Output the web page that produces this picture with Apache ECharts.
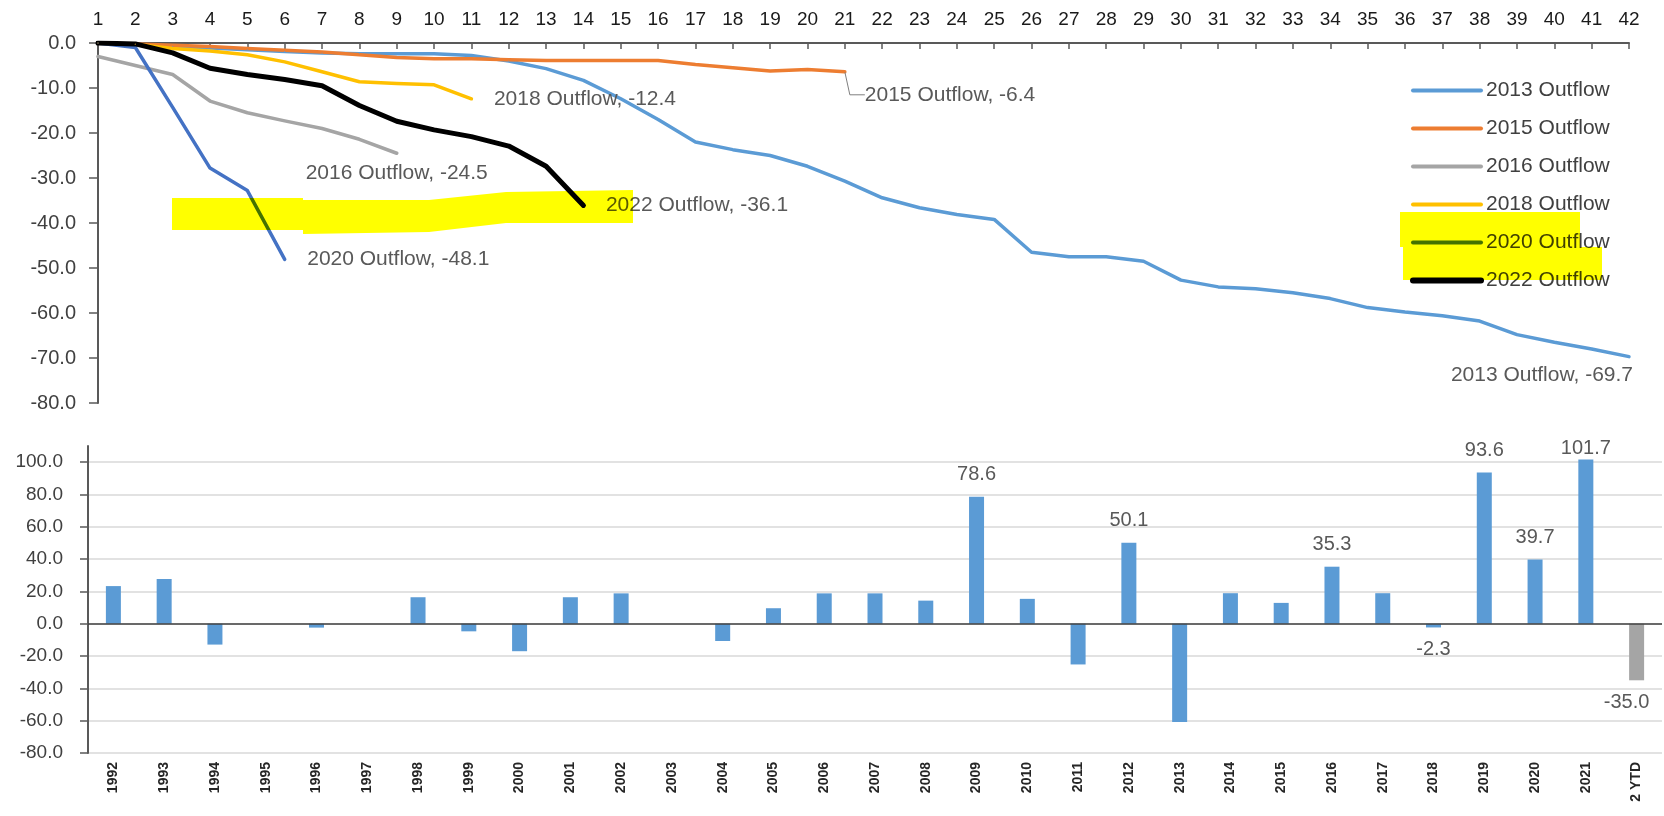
<!DOCTYPE html>
<html>
<head>
<meta charset="utf-8">
<title>Outflow chart</title>
<script src="https://cdn.jsdelivr.net/npm/echarts/dist/echarts.min.js"></script>
<style>
  html, body { margin: 0; padding: 0; background: #fff; }
  #chart { width: 1664px; height: 816px; }
</style>
</head>
<body>
<div id="chart"></div>
<script>
// top panel: cumulative outflow by week number
const weekLabels = ['1', '2', '3', '4', '5', '6', '7', '8', '9', '10', '11', '12', '13', '14',
  '15', '16', '17', '18', '19', '20', '21', '22', '23', '24', '25', '26', '27', '28',
  '29', '30', '31', '32', '33', '34', '35', '36', '37', '38', '39', '40', '41', '42']

const outflow2013 = [0, -0.3, -0.7, -1.1, -1.5, -1.9, -2.2, -2.4, -2.4, -2.4, -2.8, -4.0, -5.7, -8.3,
  -12.4, -17.0, -22.0, -23.7, -25.0, -27.4, -30.7, -34.4, -36.6, -38.1, -39.2, -46.5, -47.5, -47.5,
  -48.5, -52.7, -54.2, -54.6, -55.5, -56.8, -58.8, -59.8, -60.6, -61.8, -64.8, -66.5, -68.0, -69.7]
const outflow2015 = [0, -0.2, -0.5, -0.8, -1.2, -1.6, -2.0, -2.6, -3.2, -3.5, -3.5, -3.7, -3.9, -3.9,
  -3.9, -3.9, -4.8, -5.5, -6.2, -5.9, -6.4]
const outflow2016 = [-3.0, -5.0, -7.0, -12.9, -15.5, -17.3, -19.0, -21.4, -24.5]
const outflow2018 = [0, -0.3, -1.2, -1.8, -2.6, -4.2, -6.4, -8.6, -9.0, -9.3, -12.4]
const outflow2020 = [0, -1.0, -14.3, -27.8, -32.8, -48.1]
const outflow2022 = [0, -0.2, -2.2, -5.6, -7.0, -8.1, -9.5, -13.9, -17.4, -19.3, -20.8, -22.9, -27.4, -36.1]

// bottom panel: yearly flows
const years = ['1992', '1993', '1994', '1995', '1996', '1997', '1998', '1999', '2000', '2001',
  '2002', '2003', '2004', '2005', '2006', '2007', '2008', '2009', '2010', '2011', '2012', '2013',
  '2014', '2015', '2016', '2017', '2018', '2019', '2020', '2021', '2 YTD']
const yearFlows = [23.3, 27.7, -12.9, 0, -2.4, 0, 16.4, -4.7, -17.0, 16.4,
  18.8, 0, -10.7, 9.6, 18.8, 18.8, 14.3, 78.6, 15.4, -25.2, 50.1, -60.8,
  18.9, 12.9, 35.3, 18.9, -2.3, 93.6, 39.7, 101.7, -35.0]
const labelledYears = ['2009', '2012', '2016', '2018', '2019', '2020', '2021', '2 YTD']

const FONT = "'Liberation Sans', Arial, sans-serif"
const AXIS_COLOR = '#595959'
const fmt1 = v => Number(v).toFixed(1)

// only the last point of each line carries the "name, value" label
function withEndLabel(values, labelCfg) {
  return values.map((v, i) => i === values.length - 1
    ? { value: v, label: Object.assign({ show: true }, labelCfg) }
    : v)
}

function lineSeries(name, values, color, width, labelCfg, extra) {
  return Object.assign({
    name: name,
    type: 'line',
    xAxisIndex: 0,
    yAxisIndex: 0,
    data: withEndLabel(values, labelCfg),
    symbol: 'circle',
    symbolSize: 1,
    showSymbol: true,
    showAllSymbol: true,
    itemStyle: { color: color },
    lineStyle: { color: color, width: width, cap: 'round', join: 'round' },
    label: {
      show: false,
      formatter: '{a}, {c}',
      color: '#595959',
      fontSize: 21,
      fontFamily: FONT
    },
    emphasis: { disabled: true },
    z: 3
  }, extra || {})
}

// a couple of bar labels were nudged by hand in the original
function barItem(v, i) {
  if (years[i] === '2021') return { value: v, label: { distance: 1 } }
  if (years[i] === '2 YTD') return { value: v, label: { offset: [-10, 0] } }
  return v
}

const chart = echarts.init(document.getElementById('chart'))

chart.setOption({
  backgroundColor: '#fff',
  animation: false,
  textStyle: { fontFamily: FONT },
  grid: [
    { left: 98, right: 35, top: 43, height: 360 },
    { left: 88, right: 2, top: 446, height: 307 }
  ],
  legend: {
    orient: 'vertical',
    left: 1405,
    top: 75,
    itemWidth: 68,
    itemHeight: 14,
    itemGap: 17,
    selectedMode: false,
    itemStyle: { opacity: 0 },
    textStyle: { fontSize: 21, color: '#404040', fontFamily: FONT, lineHeight: 20 },
    data: [
      { name: '2013 Outflow', lineStyle: { width: 4 } },
      { name: '2015 Outflow', lineStyle: { width: 4 } },
      { name: '2016 Outflow', lineStyle: { width: 4 } },
      { name: '2018 Outflow', lineStyle: { width: 4 } },
      { name: '2020 Outflow', lineStyle: { width: 4 } },
      { name: '2022 Outflow', lineStyle: { width: 6 } }
    ]
  },
  xAxis: [
    {
      gridIndex: 0,
      type: 'category',
      position: 'top',
      data: weekLabels,
      boundaryGap: false,
      axisLine: { onZero: false, lineStyle: { color: AXIS_COLOR, width: 2 } },
      axisTick: { inside: true, length: 6, lineStyle: { color: AXIS_COLOR, width: 1.5 } },
      axisLabel: { interval: 0, margin: 14, fontSize: 19, color: '#1a1a1a', fontFamily: FONT },
      splitLine: { show: false }
    },
    {
      gridIndex: 1,
      type: 'category',
      data: years,
      axisLine: { show: false, onZero: false },
      axisTick: { show: false },
      axisLabel: { interval: 0, rotate: 90, margin: 9, fontSize: 14, fontWeight: 'bold', color: '#262626', fontFamily: FONT }
    }
  ],
  yAxis: [
    {
      gridIndex: 0,
      type: 'value',
      min: -80,
      max: 0,
      interval: 10,
      axisLine: { show: true, onZero: false, lineStyle: { color: AXIS_COLOR, width: 2 } },
      axisTick: { show: true, length: 9, lineStyle: { color: AXIS_COLOR, width: 1.5 } },
      axisLabel: { formatter: fmt1, margin: 22, fontSize: 20, color: '#404040', fontFamily: FONT },
      splitLine: { show: false }
    },
    {
      gridIndex: 1,
      type: 'value',
      min: -80,
      max: 110,
      interval: 20,
      axisLine: { show: true, onZero: false, lineStyle: { color: AXIS_COLOR, width: 2 } },
      axisTick: { show: true, length: 8, lineStyle: { color: AXIS_COLOR, width: 1.5 } },
      axisLabel: { formatter: fmt1, margin: 25, fontSize: 19, color: '#404040', fontFamily: FONT, showMaxLabel: false },
      splitLine: { show: true, showMaxLine: false, lineStyle: { color: '#d9d9d9', width: 1.5 } }
    }
  ],
  series: [
    lineSeries('2013 Outflow', outflow2013, '#5B9BD5', 3.5,
      { position: 'bottom', align: 'right', distance: 8, offset: [4, 0] }),
    lineSeries('2015 Outflow', outflow2015, '#ED7D31', 3.5,
      { position: 'right', distance: 5 },
      {
        // label pushed down-right with an elbow leader line
        labelLine: { show: true, length2: 15, lineStyle: { color: '#7f7f7f', width: 1 } },
        labelLayout: function (params) {
          return {
            x: params.rect.x + params.rect.width / 2 + 20,
            y: params.rect.y + params.rect.height / 2 + 23,
            align: 'left',
            verticalAlign: 'middle'
          }
        }
      }),
    lineSeries('2016 Outflow', outflow2016, '#A5A5A5', 3.5,
      { position: 'bottom', distance: 9 }),
    lineSeries('2018 Outflow', outflow2018, '#FFC000', 3.5,
      { position: 'right', distance: 22 }),
    lineSeries('2020 Outflow', outflow2020, '#4472C4', 3.5,
      { position: 'right', distance: 22 }),
    lineSeries('2022 Outflow', outflow2022, '#000000', 5,
      { position: 'right', distance: 22 }),
    {
      name: 'Flows',
      type: 'bar',
      xAxisIndex: 1,
      yAxisIndex: 1,
      barWidth: 15,
      data: yearFlows.map(barItem),
      itemStyle: {
        color: p => p.name === '2 YTD' ? '#A5A5A5' : '#5B9BD5'
      },
      label: {
        show: true,
        position: 'outside',
        distance: 12,
        fontSize: 20,
        color: '#595959',
        fontFamily: FONT,
        formatter: p => labelledYears.indexOf(p.name) >= 0 ? fmt1(p.value) : ''
      },
      emphasis: { disabled: true },
      markLine: {
        silent: true,
        symbol: 'none',
        label: { show: false },
        lineStyle: { color: '#404040', type: 'solid', width: 1.5 },
        data: [{ yAxis: 0 }]
      }
    }
  ],
  // yellow highlighter strokes on the original picture
  graphic: [
    {
      type: 'polygon',
      silent: true,
      z: 100,
      shape: {
        points: [[172, 198], [303, 198], [303, 200], [429, 200], [506, 192], [633, 190],
          [633, 223], [506, 223], [429, 232], [303, 234], [303, 230], [172, 230]]
      },
      style: { fill: '#ffff00', blend: 'multiply' }
    },
    {
      type: 'rect',
      silent: true,
      z: 100,
      shape: { x: 1400, y: 212, width: 180, height: 35 },
      style: { fill: '#ffff00', blend: 'multiply' }
    },
    {
      type: 'rect',
      silent: true,
      z: 100,
      shape: { x: 1403, y: 247, width: 199, height: 33 },
      style: { fill: '#ffff00', blend: 'multiply' }
    }
  ]
})
</script>
</body>
</html>
